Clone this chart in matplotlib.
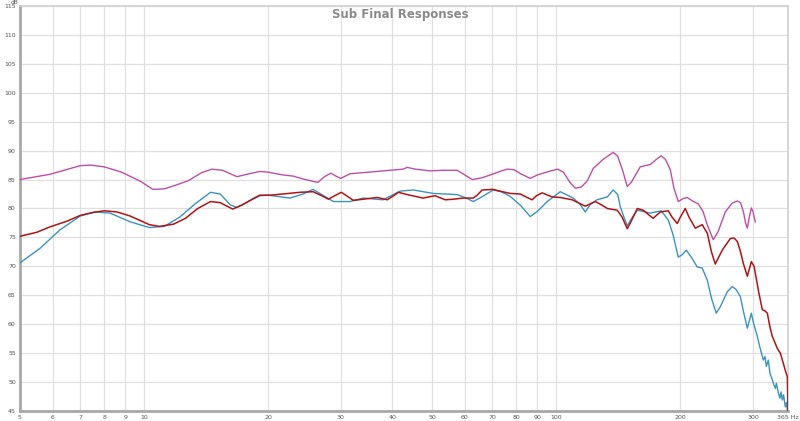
import matplotlib
matplotlib.use("Agg")
import matplotlib.pyplot as plt
from matplotlib.ticker import FixedLocator, NullLocator

# --- data (frequency in Hz, level in dB) ---
purple_f = [5.0, 5.9, 6.25, 7.0, 7.4, 8.0, 8.8, 9.8, 10.5, 11.2, 11.9, 12.8, 13.8, 14.6,
            15.5, 16.8, 18.0, 19.1, 19.9, 21.7, 23.0, 24.3, 25.3, 26.4, 27.4, 28.4, 29.2,
            30.0, 31.6, 34.0, 36.8, 39.5, 42.5, 43.5, 45.5, 49.4, 53.0, 57.5, 60.0, 62.5,
            66.0, 69.2, 73.0, 76.0, 79.0, 82.0, 86.5, 90.0, 96.0, 100.6, 104.0, 108.0,
            111.2, 115.0, 119.0, 122.9, 130.0, 137.5, 141.0, 145.0, 148.7, 152.0, 159.9,
            169.1, 175.0, 179.8, 184.0, 189.1, 193.0, 197.7, 203.0, 207.9, 214.0, 221.1,
            227.0, 233.0, 240.4, 247.0, 257.1, 267.0, 275.0, 280.0, 284.4, 288.0, 290.8,
            294.0, 297.4, 300.0, 304.1]
purple_db = [85.0, 85.9, 86.4, 87.4, 87.5, 87.2, 86.3, 84.7, 83.3, 83.4, 84.0, 84.8, 86.2, 86.8,
             86.6, 85.5, 86.0, 86.4, 86.3, 85.8, 85.6, 85.1, 84.8, 84.5, 85.5, 86.1, 85.6,
             85.2, 86.0, 86.2, 86.4, 86.6, 86.8, 87.1, 86.8, 86.5, 86.6, 86.6, 85.8, 85.0,
             85.3, 85.8, 86.4, 86.8, 86.7, 86.0, 85.2, 85.8, 86.4, 86.8, 86.3, 84.5,
             83.5, 83.7, 84.8, 86.9, 88.5, 89.7, 89.0, 86.5, 83.8, 84.5, 87.2,
             87.6, 88.5, 89.1, 88.5, 86.7, 83.5, 81.2, 81.7, 81.9, 81.3, 80.8,
             79.5, 77.0, 74.6, 76.0, 79.4, 80.9, 81.3, 81.0, 79.5, 77.5, 76.6,
             78.5, 80.1, 79.5, 77.7]

red_f = [5.0, 5.5, 5.9, 6.5, 7.0, 7.5, 8.0, 8.6, 9.25, 10.3, 10.9, 11.8, 12.6, 13.5, 14.5,
         15.3, 16.4, 17.3, 18.5, 19.1, 20.2, 21.7, 23.9, 25.7, 27.0, 28.0, 29.0, 30.1, 31.0,
         32.2, 34.0, 36.8, 38.9, 40.5, 41.4, 43.5, 47.5, 50.8, 53.8, 56.2, 59.5, 62.9,
         64.3, 66.1, 70.3, 73.0, 77.3, 81.8, 85.0, 87.4, 89.5, 92.4, 97.7, 102.3, 109.3,
         113.0, 117.6, 124.3, 129.0, 133.0, 140.6, 144.5, 148.7, 152.0, 157.3, 162.6,
         167.0, 171.9, 178.8, 187.0, 191.0, 196.6, 200.0, 205.6, 210.0, 217.5, 226.0,
         232.6, 238.0, 243.1, 252.8, 264.4, 270.0, 275.0, 280.0, 284.4, 290.8, 297.4,
         302.0, 304.1, 310.0, 316.2, 321.0, 325.2, 330.0, 334.4, 343.9, 349.7, 355.7,
         359.6, 363.7, 365.0]
red_db = [75.2, 75.9, 76.8, 77.8, 78.8, 79.3, 79.6, 79.4, 78.7, 77.2, 76.9, 77.3, 78.3, 80.0, 81.2,
          81.0, 79.9, 80.6, 81.8, 82.3, 82.3, 82.5, 82.8, 82.9, 82.2, 81.6, 82.2, 82.8, 82.2,
          81.4, 81.6, 81.9, 81.5, 82.3, 82.8, 82.4, 81.8, 82.2, 81.5, 81.6, 81.8, 81.8,
          82.3, 83.2, 83.3, 83.0, 82.6, 82.5, 81.9, 81.5, 82.2, 82.7, 82.0, 81.9, 81.5,
          81.0, 80.4, 81.2, 80.6, 80.0, 79.7, 78.5, 76.5, 77.8, 80.0, 79.7,
          79.0, 78.3, 79.4, 79.6, 78.5, 77.4, 78.5, 80.0, 78.5, 76.6, 77.2,
          75.7, 72.5, 70.4, 72.8, 74.8, 74.9, 74.3, 72.5, 70.5, 68.3, 70.8,
          70.0, 68.8, 65.5, 62.5, 62.3, 61.9, 59.5, 57.9, 55.8, 55.0, 53.2,
          52.0, 50.9, 45.0]

blue_f = [5.0, 5.59, 6.25, 7.0, 7.6, 8.27, 9.25, 10.3, 11.2, 12.2, 13.3, 14.5, 15.3, 16.2,
          16.8, 18.0, 19.1, 20.0, 22.6, 24.3, 25.7, 27.0, 28.8, 31.6, 34.0, 38.0, 41.8,
          45.0, 50.3, 57.5, 60.5, 62.9, 66.0, 70.3, 73.5, 77.3, 82.0, 86.5, 90.0, 95.1,
          102.3, 109.9, 114.0, 117.6, 121.0, 125.6, 133.0, 137.5, 141.0, 143.0, 146.0,
          148.7, 153.0, 157.3, 169.1, 179.8, 187.0, 192.0, 197.7, 202.0, 206.8, 213.0,
          219.8, 226.0, 232.6, 238.0, 244.4, 250.0, 260.0, 267.3, 273.0, 279.6, 285.0,
          290.8, 297.4, 301.0, 307.5, 312.0, 318.0, 321.0, 323.4, 327.0, 330.0, 334.4,
          337.0, 340.1, 342.0, 345.9, 349.0, 351.0, 353.7, 356.0, 359.6, 362.0, 363.7]
blue_db = [70.6, 73.1, 76.3, 78.7, 79.4, 79.2, 77.7, 76.7, 76.9, 78.5, 80.8, 82.8, 82.5, 80.6,
           80.2, 81.3, 82.2, 82.3, 81.8, 82.5, 83.3, 82.4, 81.2, 81.2, 81.8, 81.5, 83.0,
           83.2, 82.6, 82.4, 81.8, 81.2, 82.0, 83.2, 82.9, 82.1, 80.5, 78.6, 79.5, 81.2,
           82.9, 81.8, 80.8, 79.4, 80.7, 81.5, 82.0, 83.2, 82.4, 80.3, 78.5,
           77.0, 78.5, 79.7, 79.2, 79.6, 78.0, 75.5, 71.6, 72.0, 72.8, 71.5,
           69.9, 69.7, 67.6, 64.5, 61.9, 63.0, 65.6, 66.5, 66.0, 64.8, 62.0,
           59.3, 61.9, 60.2, 57.9, 56.0, 53.8, 54.4, 52.7, 53.8, 51.5, 50.4,
           49.6, 48.9, 49.8, 48.1, 47.2, 48.3, 46.9, 47.8, 45.7, 46.5, 45.0]

x_ticks = [5, 6, 7, 8, 9, 10, 20, 30, 40, 50, 60, 70, 80, 90, 100, 200, 300, 365]
x_labels = ["5", "6", "7", "8", "9", "10", "20", "30", "40", "50", "60", "70", "80",
            "90", "100", "200", "300", "365 Hz"]
y_ticks = list(range(45, 116, 5))

fig = plt.figure(figsize=(8, 4.21), dpi=100)
ax = fig.add_axes([0.025, 0.0238, 0.96, 0.962])

ax.plot(blue_f, blue_db, color="#3a93c3", lw=1.0, zorder=3)
ax.plot(red_f, red_db, color="#b01414", lw=1.1, zorder=4)
ax.plot(purple_f, purple_db, color="#c04ea8", lw=1.0, zorder=4)

ax.set_xscale("log")
ax.set_xlim(5, 365)
ax.set_ylim(45, 115)
ax.xaxis.set_major_locator(FixedLocator(x_ticks))
ax.xaxis.set_minor_locator(NullLocator())
ax.set_xticklabels(x_labels)
ax.set_yticks(y_ticks)
ax.tick_params(length=0, labelsize=4.5, colors="#555555", pad=3)
ax.grid(True, color="#e0e0e0", lw=0.9, zorder=0)

for side in ("top", "right"):
    ax.spines[side].set_color("#d0d0d0")
    ax.spines[side].set_linewidth(1.2)
for side in ("left", "bottom"):
    ax.spines[side].set_color("#a8a8a8")
    ax.spines[side].set_linewidth(2.0)

fig.text(0.5, 0.966, "Sub Final Responses", ha="center", va="center",
         fontsize=8.5, fontweight="bold", color="#8a8a8a")
fig.text(0.0185, 1.0, "dB", ha="center", va="top", fontsize=4.2, color="#555555")

fig.savefig("out.png", dpi=100)
